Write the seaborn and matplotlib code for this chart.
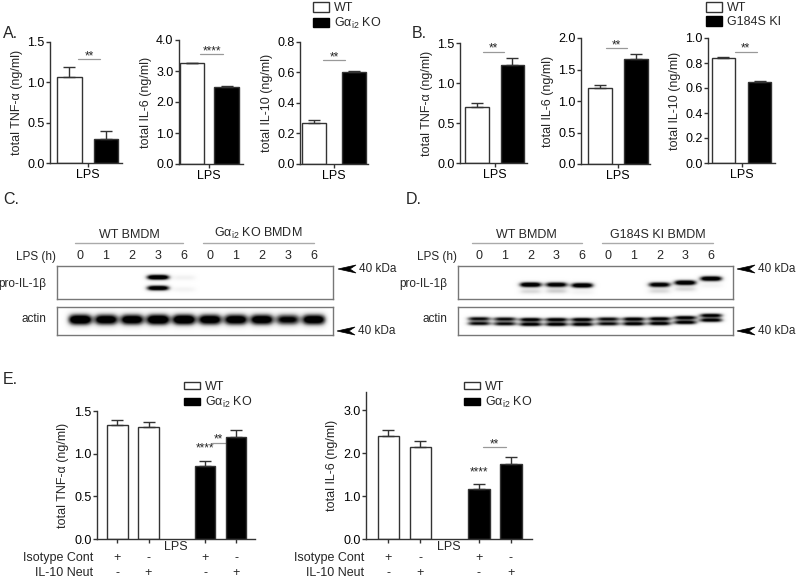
import numpy as np
import pandas as pd
import matplotlib
matplotlib.use('Agg')
import matplotlib.pyplot as plt
from matplotlib.patches import Patch, Polygon
from matplotlib.transforms import blended_transform_factory
import seaborn as sns

sns.set_theme(style='ticks')
plt.rcParams['font.family'] = ['Liberation Sans', 'DejaVu Sans']
plt.rcParams['mathtext.fontset'] = 'custom'
plt.rcParams['mathtext.rm'] = 'Liberation Sans'

KO = 'Gα$_{\\mathregular{i2}}$ KO'

# A: WT vs Gai2 KO, cytokines after LPS (ng/ml)
a_groups = ['WT', KO]
a_tnf, a_tnf_err = [1.07, 0.30], [0.12, 0.10]
a_il6, a_il6_err = [3.25, 2.50], [0.02, 0.03]
a_il10, a_il10_err = [0.27, 0.60], [0.015, 0.008]

# B: WT vs G184S KI
b_groups = ['WT', 'G184S KI']
b_tnf, b_tnf_err = [0.70, 1.22], [0.05, 0.09]
b_il6, b_il6_err = [1.20, 1.67], [0.06, 0.08]
b_il10, b_il10_err = [0.84, 0.65], [0.005, 0.005]

# E: isotype control vs IL-10 neutralisation
e_groups = ['WT', 'WT', KO, KO]
e_isotype = ['+', '-', '+', '-']
e_neut = ['-', '+', '-', '+']
e_tnf, e_tnf_err = [1.34, 1.31, 0.86, 1.20], [0.06, 0.06, 0.05, 0.08]
e_il6, e_il6_err = [2.40, 2.14, 1.16, 1.74], [0.14, 0.14, 0.12, 0.16]

# C/D: western blots (lane index, band row down the membrane, intensity)
lane_hours = ['0', '1', '2', '3', '6', '0', '1', '2', '3', '6']
c_pro_lane = [3, 3, 4, 4]
c_pro_row = [0.36, 0.68, 0.37, 0.72]
c_pro_int = [1.4, 1.3, 0.12, 0.10]
c_actin_int = [1.4, 1.3, 1.3, 1.4, 1.4, 1.3, 1.3, 1.3, 1.1, 1.3]
d_pro_lane = [2, 2, 3, 3, 4, 4, 7, 7, 8, 8, 9, 9]
d_pro_row = [0.58, 0.78, 0.58, 0.77, 0.60, 0.80, 0.58, 0.77, 0.52, 0.71, 0.40, 0.60]
d_pro_int = [1.3, 0.25, 1.2, 0.30, 1.3, 0.10, 1.2, 0.25, 1.3, 0.25, 1.3, 0.10]
d_actin_row = [0.42, 0.43, 0.45, 0.45, 0.45, 0.43, 0.43, 0.42, 0.38, 0.30]
d_actin_int = [1.0, 1.0, 1.1, 1.1, 1.1, 1.0, 1.1, 1.1, 1.1, 1.1]

W, H = 800, 580
fig = plt.figure(figsize=(W / 100, H / 100), dpi=100)
EDGE = '#333333'
FS = 9
BFS = 8.5


def rect(x0, y0, x1, y1):
    return [x0 / W, 1 - y1 / H, (x1 - x0) / W, (y1 - y0) / H]


def style_axis(ax):
    sns.despine(ax=ax)
    for s in ['left', 'bottom']:
        ax.spines[s].set_color(EDGE)
        ax.spines[s].set_linewidth(1)
    ax.tick_params(colors=EDGE, labelcolor='black', labelsize=FS, length=3, width=1, pad=1)


def bars(ax, x, groups, vals, errs, width):
    df = pd.DataFrame({'x': x, 'grp': groups, 'val': vals})
    pal = {groups[0]: 'white', groups[-1]: 'black'}
    sns.barplot(data=df, x='x', y='val', hue='grp', palette=pal, native_scale=True,
                width=width, dodge=False, errorbar=None, legend=False,
                edgecolor=EDGE, linewidth=1, ax=ax)
    ax.errorbar(x, vals, yerr=[np.zeros(len(vals)), errs], fmt='none',
                ecolor=EDGE, elinewidth=1, capsize=4, capthick=1, zorder=5)


def sig(ax, x0, x1, y, label, xt=None):
    ax.plot([x0, x1], [y, y], color='#999999', lw=0.9, clip_on=False, zorder=0.5)
    xt = (x0 + x1) / 2 if xt is None else xt
    ax.text(xt, y, label, ha='center', va='baseline', fontsize=8.5)


def bar_panel(box, groups, vals, errs, ylabel, ylim, step, xlim, width, sigline):
    ax = fig.add_axes(rect(*box))
    bars(ax, [0, 1], groups, vals, errs, width)
    ax.set_xlim(*xlim)
    ax.set_ylim(0, ylim)
    ax.set_yticks(np.arange(0, ylim + step / 2, step))
    ax.yaxis.set_major_formatter('{x:.1f}')
    ax.set_xticks([0.5])
    ax.set_xticklabels(['LPS'])
    ax.set_xlabel('')
    ax.set_ylabel(ylabel, fontsize=FS, labelpad=3)
    style_axis(ax)
    sig(ax, *sigline)
    return ax


# ---- A ----
bar_panel((50, 42, 122, 163.4), a_groups, a_tnf, a_tnf_err, 'total TNF-α (ng/ml)',
          1.5, 0.5, (-0.53, 1.44), 0.67, (0.23, 0.84, 1.29, '**'))
bar_panel((179, 40, 243, 164), a_groups, a_il6, a_il6_err, 'total IL-6 (ng/ml)',
          4.0, 1.0, (-0.36, 1.47), 0.69, (0.25, 0.90, 3.55, '****'))
bar_panel((300, 41.7, 368, 164), a_groups, a_il10, a_il10_err, 'total IL-10 (ng/ml)',
          0.8, 0.2, (-0.35, 1.35), 0.60, (0.22, 0.78, 0.68, '**'))

# ---- B ----
bar_panel((460, 43, 527, 163), b_groups, b_tnf, b_tnf_err, 'total TNF-α (ng/ml)',
          1.5, 0.5, (-0.48, 1.41), 0.66, (0.17, 0.76, 1.39, '**'))
bar_panel((581, 38, 650, 164), b_groups, b_il6, b_il6_err, 'total IL-6 (ng/ml)',
          2.0, 0.5, (-0.53, 1.39), 0.67, (0.17, 0.75, 1.84, '**'))
bar_panel((708, 38, 775, 163), b_groups, b_il10, b_il10_err, 'total IL-10 (ng/ml)',
          1.0, 0.2, (-0.42, 1.42), 0.64, (0.32, 0.92, 0.89, '**'))


def legend(x, y, labels, hh):
    handles = [Patch(facecolor='white', edgecolor=EDGE, lw=1),
               Patch(facecolor='black', edgecolor='black', lw=1)]
    fig.legend(handles, labels, loc='upper left', bbox_to_anchor=(x / W, 1 - y / H),
               frameon=False, fontsize=FS, handlelength=1.3, handleheight=hh,
               handletextpad=0.35, labelspacing=0.15, borderpad=0, borderaxespad=0)


legend(313, 2, a_groups, 0.8)
legend(706, 2, b_groups, 0.8)


# ---- C / D blots ----
def blot_image(ax, lanes, rows, ints, xl, xr, sx, sy):
    xs = np.linspace(xl, xr, 500)
    ys = np.linspace(0, 1, 90)
    X, Y = np.meshgrid(xs, ys)
    img = np.zeros_like(X)
    for l, r, v in zip(lanes, rows, ints):
        img += v * np.exp(-np.abs((X - l) / sx) ** 4) * np.exp(-((Y - r) / sy) ** 2)
    ax.imshow(np.clip(img, 0, 1), cmap='Greys', vmin=0, vmax=1, aspect='auto',
              extent=(xl, xr, 1, 0), interpolation='bilinear')
    ax.set_xlim(xl, xr)
    ax.set_ylim(1, 0)
    ax.set_xticks([])
    ax.set_yticks([])
    for s in ax.spines.values():
        s.set_color('#777777')
        s.set_linewidth(1)


def arrow(tx, ty):
    pts = [(tx, ty), (tx + 18, ty - 4), (tx + 12, ty), (tx + 18, ty + 4)]
    fig.add_artist(Polygon([(x / W, 1 - y / H) for x, y in pts], closed=True,
                           facecolor='black', edgecolor='black', lw=0.5,
                           transform=fig.transFigure))
    fig.text((tx + 21) / W, 1 - ty / H, '40 kDa', fontsize=BFS, va='center')


def blot_panel(pro_box, act_box, xl, xr, pro, act_lanes, act_rows, act_ints, act_sy,
               groups, spans):
    ax = fig.add_axes(rect(*pro_box))
    blot_image(ax, *pro, xl, xr, 0.44, 0.08)
    ax.set_xticks(range(len(lane_hours)))
    ax.set_xticklabels(lane_hours)
    ax.tick_params(top=True, labeltop=True, bottom=False, labelbottom=False,
                   length=0, pad=3, labelsize=FS)
    tr = blended_transform_factory(ax.transData, ax.transAxes)
    for g, (x0, x1) in zip(groups, spans):
        ax.plot([x0, x1], [1.70, 1.70], color='#aaaaaa', lw=1, transform=tr, clip_on=False)
        ax.text((x0 + x1) / 2, 1.76, g, ha='center', va='bottom', fontsize=FS, transform=tr)
    ax.text(xl - 0.05, 1.27, 'LPS (h)', ha='right', va='center', fontsize=BFS, transform=tr)
    ax.text(xl - 0.4, 0.45, 'pro-IL-1β', ha='right', va='center', fontsize=BFS, transform=tr)
    axa = fig.add_axes(rect(*act_box))
    blot_image(axa, act_lanes, act_rows, act_ints, xl, xr, 0.46, act_sy)
    tra = blended_transform_factory(axa.transData, axa.transAxes)
    axa.text(xl - 0.4, 0.57, 'actin', ha='right', va='center', fontsize=BFS, transform=tra)


fig.text(3 / W, 1 - 34 / H, 'A.', fontsize=11.5, va='center')
fig.text(412 / W, 1 - 34 / H, 'B.', fontsize=11.5, va='center')
fig.text(3 / W, 1 - 200 / H, 'C.', fontsize=11.5, va='center')
fig.text(406 / W, 1 - 200 / H, 'D.', fontsize=11.5, va='center')
fig.text(3 / W, 1 - 379 / H, 'E.', fontsize=11.5, va='center')

c_lanes = list(range(10))
blot_panel((57, 266, 333, 299), (57, 307, 333, 335), -0.885, 9.73,
           (c_pro_lane, c_pro_row, c_pro_int),
           c_lanes, [0.45] * 10, c_actin_int, 0.2,
           ['WT BMDM', 'Gα$_{\\mathregular{i2}}$ KO BMDM'], [(-0.2, 3.96), (4.73, 9.0)])
# D actin is a doublet
d_lanes = c_lanes + c_lanes
d_rows = d_actin_row + [r + 0.17 for r in d_actin_row]
blot_panel((458, 266, 733, 299), (458, 307, 733, 335), -0.81, 9.84,
           (d_pro_lane, d_pro_row, d_pro_int),
           d_lanes, d_rows, d_actin_int + d_actin_int, 0.08,
           ['WT BMDM', 'G184S KI BMDM'], [(-0.27, 3.98), (4.76, 9.07)])
arrow(338, 269)
arrow(337, 331)
arrow(737, 269)
arrow(737, 331)


# ---- E ----
def e_panel(box, vals, errs, ylabel, ylim, ticks, xlim, stars, dbl, label_right):
    ax = fig.add_axes(rect(*box))
    x = [0, 1, 2.82, 3.82]
    bars(ax, x, e_groups, vals, errs, 0.67)
    ax.set_xlim(*xlim)
    ax.set_ylim(0, ylim)
    ax.set_yticks(ticks)
    ax.yaxis.set_major_formatter('{x:.1f}')
    ax.set_xticks(x)
    ax.set_xticklabels([])
    ax.set_xlabel('')
    ax.set_ylabel(ylabel, fontsize=FS, labelpad=4)
    style_axis(ax)
    ax.text(x[2], stars, '****', ha='center', va='baseline', fontsize=8.5)
    sig(ax, *dbl)
    tr = blended_transform_factory(ax.transData, fig.transFigure)
    ax.text(sum(xlim) / 2, 1 - 547 / H, 'LPS', ha='center', va='center', fontsize=FS, transform=tr)
    for xi, a, b in zip(x, e_isotype, e_neut):
        ax.text(xi, 1 - 558 / H, a, ha='center', va='center', fontsize=FS, transform=tr)
        ax.text(xi, 1 - 573 / H, b, ha='center', va='center', fontsize=FS, transform=tr)
    fig.text(label_right / W, 1 - 558 / H, 'Isotype Cont', ha='right', va='center', fontsize=FS)
    fig.text(label_right / W, 1 - 573 / H, 'IL-10 Neut', ha='right', va='center', fontsize=FS)


e_panel((97, 411, 255, 539), e_tnf, e_tnf_err, 'total TNF-α (ng/ml)', 1.5,
        [0, 0.5, 1.0, 1.5], (-0.66, 4.43), 1.03, (3.05, 3.79, 1.13, '**', 3.24), 93)
e_panel((366, 392, 532, 539), e_il6, e_il6_err, 'total IL-6 (ng/ml)', 3.42,
        [0, 1, 2, 3], (-0.70, 4.48), 1.47, (2.95, 3.67, 2.14, '**'), 364)
legend(184, 381, ['WT', KO], 0.5)
legend(464, 381, ['WT', KO], 0.5)

fig.savefig('out.png', dpi=100)
